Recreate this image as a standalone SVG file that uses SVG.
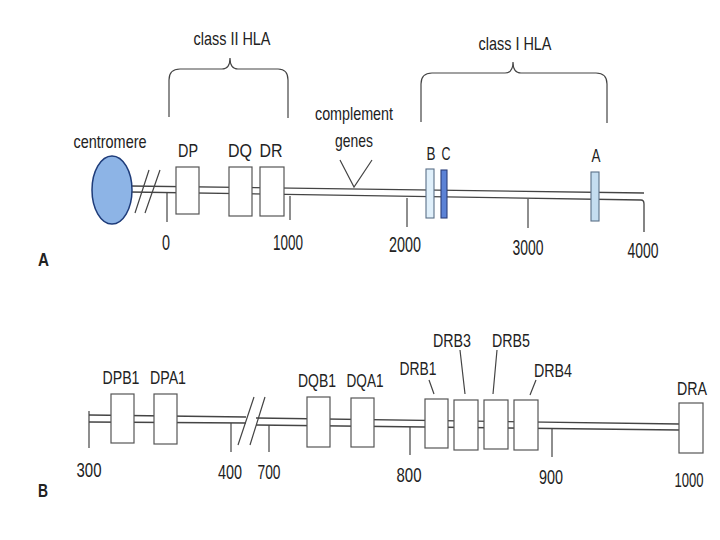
<svg xmlns="http://www.w3.org/2000/svg" width="720" height="540" viewBox="0 0 720 540">
<style>
text{font-family:"Liberation Sans",Arial,sans-serif;fill:#222;text-anchor:middle;font-size:19px}
.num{font-size:22px}
.numb{font-size:21px}
.pl{font-weight:bold;font-size:19px;text-anchor:start}
.ln{fill:none;stroke:#444;stroke-width:1.3}
.tk{fill:none;stroke:#444;stroke-width:1.2}
.box{fill:#fff;stroke:#555;stroke-width:1.2}
</style>
<rect width="720" height="540" fill="#fff"/>
<g id="connectors">
<!-- panel A chromosome -->
<path class="ln" d="M130,186 L644,193"/>
<path class="ln" d="M130,192 L641,200 Q644,200 644,204 L644,232"/>
<path class="tk" d="M135,213 L149,170 M145,213 L160,170"/>
<path class="tk" d="M167,192 L167,222 M290,196 L290,220 M407,198 L407,227 M528,199 L528,228"/>
<path class="tk" d="M340,160 L354,187 L372,160"/>
<path class="tk" d="M169,117 L169,80 Q169,69 180,69 L222,69 Q230,69 230,58 Q230,69 238,69 L278,69 Q288,69 288,80 L288,118"/>
<path class="tk" d="M421,122 L421,84 Q421,73 432,73 L505,73 Q513,73 513,62 Q513,73 521,73 L596,73 Q607,73 607,84 L607,123"/>
<!-- panel B chromosome -->
<path class="ln" d="M89,415 L246,417 M89,422 L246,423"/>
<path class="ln" d="M256,418 L679,424 M256,425 L679,430"/>
<path class="tk" d="M89,411 L89,448"/>
<path class="tk" d="M238,445 L254,397 M250,445 L265,397"/>
<path class="tk" d="M231,423 L231,452 M269,425 L269,452 M410,427 L410,455 M552,428 L552,457"/>
<path class="tk" d="M429,380 L434,394 M460,350 L465,394 M497,350 L493,394 M536,380 L530,395"/>
</g>
<g id="centromere"><ellipse cx="112" cy="190" rx="20" ry="34" fill="#8db4e6" stroke="#1e3c7a" stroke-width="1.5"/><text x="110" y="148" textLength="73" lengthAdjust="spacingAndGlyphs">centromere</text></g>
<g id="classII"><text x="232" y="45" textLength="77" lengthAdjust="spacingAndGlyphs">class II HLA</text></g>
<g id="classI"><text x="515" y="50" textLength="73" lengthAdjust="spacingAndGlyphs">class I HLA</text></g>
<g id="DP"><rect class="box" x="176" y="167" width="23" height="47"/><text x="188" y="157" textLength="20" lengthAdjust="spacingAndGlyphs">DP</text></g>
<g id="DQ"><rect class="box" x="229" y="167" width="23" height="49"/><text x="240" y="157" textLength="24" lengthAdjust="spacingAndGlyphs">DQ</text></g>
<g id="DR"><rect class="box" x="260" y="167" width="24" height="49"/><text x="271" y="157" textLength="23" lengthAdjust="spacingAndGlyphs">DR</text></g>
<g id="complement"><text x="354" y="120" textLength="78" lengthAdjust="spacingAndGlyphs">complement</text><text x="354" y="147" textLength="38" lengthAdjust="spacingAndGlyphs">genes</text></g>
<g id="B"><rect x="426" y="169" width="8" height="49" fill="#e0f0fb" stroke="#5a6f88" stroke-width="1.1"/><text x="431" y="160" textLength="9" lengthAdjust="spacingAndGlyphs">B</text></g>
<g id="C"><rect x="441" y="170" width="6" height="48" fill="#5b82d6" stroke="#2a3f7a" stroke-width="1.1"/><text x="446" y="160" textLength="9" lengthAdjust="spacingAndGlyphs">C</text></g>
<g id="A"><rect x="591" y="172" width="8" height="49" fill="#c4ddf0" stroke="#5a6f88" stroke-width="1.1"/><text x="596" y="162" textLength="9" lengthAdjust="spacingAndGlyphs">A</text></g>
<g id="scaleA">
<text class="num" x="166" y="250" textLength="8" lengthAdjust="spacingAndGlyphs">0</text>
<text class="num" x="288" y="250" textLength="30" lengthAdjust="spacingAndGlyphs">1000</text>
<text class="num" x="405" y="252" textLength="32" lengthAdjust="spacingAndGlyphs">2000</text>
<text class="num" x="528" y="255" textLength="31" lengthAdjust="spacingAndGlyphs">3000</text>
<text class="num" x="643" y="258" textLength="31" lengthAdjust="spacingAndGlyphs">4000</text>
<text class="pl" x="38" y="266" textLength="11" lengthAdjust="spacingAndGlyphs">A</text>
</g>
<g id="DPB1"><rect class="box" x="111" y="394" width="23" height="49"/><text x="121" y="384" textLength="37" lengthAdjust="spacingAndGlyphs">DPB1</text></g>
<g id="DPA1"><rect class="box" x="154" y="394" width="23" height="50"/><text x="168" y="384" textLength="36" lengthAdjust="spacingAndGlyphs">DPA1</text></g>
<g id="DQB1"><rect class="box" x="307" y="397" width="23" height="50"/><text x="317" y="387" textLength="38" lengthAdjust="spacingAndGlyphs">DQB1</text></g>
<g id="DQA1"><rect class="box" x="351" y="398" width="23" height="49"/><text x="365" y="387" textLength="37" lengthAdjust="spacingAndGlyphs">DQA1</text></g>
<g id="DRB1"><rect class="box" x="425" y="399" width="23" height="49"/><text x="418" y="375" textLength="37" lengthAdjust="spacingAndGlyphs">DRB1</text></g>
<g id="DRB3"><rect class="box" x="454" y="400" width="24" height="50"/><text x="452" y="347" textLength="38" lengthAdjust="spacingAndGlyphs">DRB3</text></g>
<g id="DRB5"><rect class="box" x="484" y="400" width="24" height="49"/><text x="511" y="347" textLength="38" lengthAdjust="spacingAndGlyphs">DRB5</text></g>
<g id="DRB4"><rect class="box" x="514" y="400" width="24" height="50"/><text x="553" y="377" textLength="38" lengthAdjust="spacingAndGlyphs">DRB4</text></g>
<g id="DRA"><rect class="box" x="679" y="403" width="24" height="50"/><text x="692" y="395" textLength="30" lengthAdjust="spacingAndGlyphs">DRA</text></g>
<g id="scaleB">
<text class="numb" x="89" y="477" textLength="25" lengthAdjust="spacingAndGlyphs">300</text>
<text class="numb" x="230" y="479" textLength="24" lengthAdjust="spacingAndGlyphs">400</text>
<text class="numb" x="269" y="479" textLength="23" lengthAdjust="spacingAndGlyphs">700</text>
<text class="numb" x="409" y="482" textLength="25" lengthAdjust="spacingAndGlyphs">800</text>
<text class="numb" x="551" y="484" textLength="24" lengthAdjust="spacingAndGlyphs">900</text>
<text class="numb" x="689" y="487" textLength="29" lengthAdjust="spacingAndGlyphs">1000</text>
<text class="pl" x="38" y="497" textLength="10" lengthAdjust="spacingAndGlyphs">B</text>
</g>
</svg>
